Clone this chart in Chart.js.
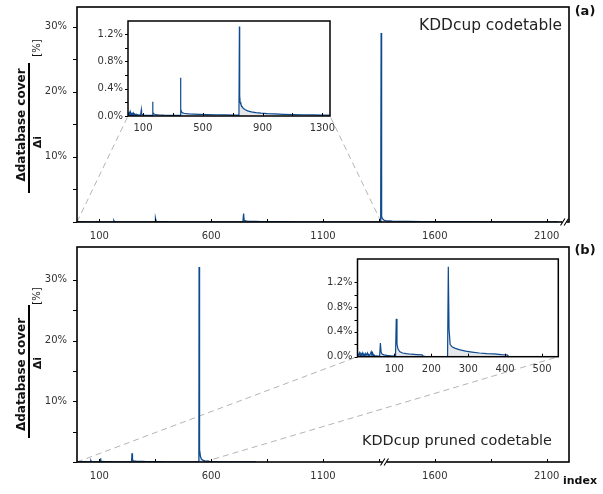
<!DOCTYPE html>
<html><head><meta charset="utf-8">
<script src="https://cdn.jsdelivr.net/npm/chart.js@4.4.0/dist/chart.umd.min.js"></script>
<style>
html,body{margin:0;padding:0;background:#fff;}
#wrap{position:relative;width:603px;height:494px;overflow:hidden;}
canvas{position:absolute;}
</style></head><body>
<div id="wrap">
<canvas id="mainA" width="603" height="250" style="left:0;top:0;width:603px;height:250px"></canvas>
<canvas id="mainB" width="603" height="254" style="left:0;top:240px;width:603px;height:254px"></canvas>
<canvas id="insetA" width="250" height="128" style="left:90px;top:12px;width:250px;height:128px"></canvas>
<canvas id="insetB" width="252" height="128" style="left:316px;top:250px;width:252px;height:128px"></canvas>
</div>
<script>
// ---- data: full codetable (a) ----
const idxA = [1,3,5,8,11,14,17,20,24,28,32,36,40,45,50,55,60,66,72,78,84,89,91,95,100,110,125,140,155,163,165,167,170,178,190,210,240,280,320,345,349,351,354,358,365,375,390,410,440,480,530,590,650,710,742,745,747,750,755,762,772,785,800,825,855,890,930,980,1040,1100,1170,1240,1300,1340,1358,1360,1361,1363,1366,1372,1380,1392,1410,1440,1480,1540,1620,1720,1850,2000,2150];
const valA = [0.03,0.05,0.02,0.045,0.01,0.04,0.02,0.05,0.015,0.035,0.01,0.04,0.015,0.03,0.01,0.025,0.01,0.02,0.008,0.015,0.01,0.09,0.03,0.02,0.015,0.012,0.01,0.01,0.008,0.01,0.21,0.06,0.035,0.025,0.02,0.015,0.012,0.01,0.008,0.008,0.01,0.56,0.1,0.06,0.045,0.04,0.035,0.03,0.027,0.023,0.02,0.018,0.015,0.012,0.012,1.31,0.3,0.2,0.17,0.14,0.11,0.09,0.075,0.06,0.05,0.042,0.035,0.03,0.025,0.021,0.018,0.016,0.014,0.012,0.01,29.0,4.0,0.8,0.5,0.3,0.2,0.15,0.12,0.1,0.08,0.06,0.05,0.04,0.03,0.02,0.015];
// ---- data: pruned codetable (b) ----
const idxB = [1,3,5,7,9,11,13,15,17,19,21,23,25,27,29,31,33,35,37,39,41,43,45,48,52,56,60,62,64,67,72,80,90,100,103,105,107,110,115,122,132,145,160,175,178,182,200,220,240,244,246,248,251,256,265,278,293,310,330,350,370,390,405,410,450,500,545,546,547,549,552,556,562,572,590,620,660,720,800];
const valB = [0.05,0.02,0.06,0.015,0.05,0.03,0.06,0.01,0.04,0.02,0.05,0.015,0.035,0.06,0.01,0.03,0.015,0.05,0.08,0.02,0.06,0.015,0.03,0.01,0.015,0.01,0.01,0.22,0.07,0.04,0.03,0.02,0.015,0.01,0.01,0.61,0.2,0.12,0.08,0.06,0.05,0.04,0.035,0.03,0.01,0.005,0.003,0.003,0.003,0.003,1.45,0.45,0.2,0.16,0.135,0.11,0.09,0.075,0.06,0.05,0.045,0.035,0.03,0.003,0.002,0.002,0.002,32.1,6,2,0.9,0.5,0.3,0.18,0.1,0.05,0.025,0.012,0.005];
// ---- ticks ----
const mainXTicks = [100,600,1100,1600,2100];
const mainXMinor = [350,850,1350,1850];
const mainYTicks = [0,10,20,30];
const mainYMinor = [5,15,25];
const insetAXTicks = [100,500,900,1300];
const insetAXMinor = [300,700,1100];
const insetBXTicks = [100,200,300,400,500];
const insetYTicks = [0,0.4,0.8,1.2];
const insetYMinor = [0.2,0.6,1.0];

const LINE = '#0d4a8f';
const FILL = 'rgba(185,188,198,0.35)';
const FONT = 'DejaVu Sans';
Chart.defaults.font.family = FONT;
Chart.defaults.font.size = 10;
const charts = {};
const toPoints = (xs, ys) => xs.map((x, i) => ({x: x, y: ys[i]}));

function makeDecor(cfg) {
  return {
    id: 'decor',
    beforeDraw(chart) {
      if (!cfg.white) return;
      const ctx = chart.ctx, a = chart.chartArea;
      ctx.save(); ctx.fillStyle = '#fff';
      ctx.fillRect(a.left - cfg.white[0], a.top, a.right - a.left + cfg.white[0], a.bottom - a.top + cfg.white[1]);
      ctx.restore();
    },
    beforeDatasetsDraw(chart) {
      if (!cfg.connect) return;
      const ctx = chart.ctx, xs = chart.scales.x, ys = chart.scales.y;
      const ins = charts[cfg.connect.inset]; if (!ins) return;
      const ia = ins.chartArea, off = cfg.connect.offset;
      const y0 = ys.getPixelForValue(0);
      ctx.save(); ctx.setLineDash([6, 4]); ctx.strokeStyle = '#b4b4b4'; ctx.lineWidth = 1;
      ctx.beginPath();
      ctx.moveTo(xs.getPixelForValue(cfg.connect.from[0]), y0); ctx.lineTo(off[0] + ia.left, off[1] + ia.bottom);
      ctx.moveTo(xs.getPixelForValue(cfg.connect.from[1]), y0); ctx.lineTo(off[0] + ia.right, off[1] + ia.bottom);
      ctx.stroke(); ctx.restore();
    },
    afterDraw(chart) {
      const ctx = chart.ctx, a = chart.chartArea, xs = chart.scales.x, ys = chart.scales.y;
      ctx.save();
      ctx.strokeStyle = '#000'; ctx.lineWidth = cfg.frameW;
      ctx.strokeRect(a.left, a.top, a.right - a.left, a.bottom - a.top);
      ctx.lineWidth = 1;
      ctx.beginPath();
      cfg.yT.forEach(v => { const p = Math.round(ys.getPixelForValue(v)) + 0.5; ctx.moveTo(a.left, p); ctx.lineTo(a.left - cfg.yLen, p); });
      cfg.xT.forEach(v => { const p = Math.round(xs.getPixelForValue(v)) + 0.5; ctx.moveTo(p, a.bottom); ctx.lineTo(p, a.bottom - cfg.xLen); });
      ctx.stroke();
      if (cfg.breakAt) {
        const px = xs.getPixelForValue(cfg.breakAt), py = a.bottom;
        ctx.fillStyle = '#fff'; ctx.fillRect(px - 2, py - 1.5, 4, 3);
        ctx.lineWidth = 1.1; ctx.beginPath();
        [-1.8, 1.8].forEach(d => { ctx.moveTo(px + d - 2.2, py + 3.5); ctx.lineTo(px + d + 2.2, py - 3.5); });
        ctx.stroke();
      }
      if (cfg.fracLine) {
        ctx.lineWidth = 2; ctx.beginPath();
        ctx.moveTo(cfg.fracLine[0], cfg.fracLine[1]); ctx.lineTo(cfg.fracLine[0], cfg.fracLine[2]); ctx.stroke();
      }
      (cfg.texts || []).forEach(t => {
        ctx.save();
        let font = t.font;
        if (t.w) {
          ctx.font = t.size + 'px ' + FONT;
          const s = t.size * t.w / ctx.measureText(t.text).width;
          font = s.toFixed(2) + 'px ' + FONT;
        }
        ctx.font = font; ctx.fillStyle = t.color || '#000';
        ctx.textAlign = t.align || 'center'; ctx.textBaseline = t.base || 'middle';
        ctx.translate(t.x, t.y);
        if (t.rot) ctx.rotate(-Math.PI / 2);
        ctx.fillText(t.text, 0, 0);
        ctx.restore();
      });
      ctx.restore();
    }
  };
}

function build(id, o) {
  const c = new Chart(document.getElementById(id), {
    type: 'line',
    data: {datasets: [{data: o.data, borderColor: LINE, backgroundColor: FILL, fill: 'origin',
      borderWidth: o.lineW, pointRadius: 0, tension: 0}]},
    options: {
      responsive: false, animation: false, devicePixelRatio: 1,
      layout: {padding: o.pad},
      plugins: {legend: {display: false}, tooltip: {enabled: false}},
      scales: {
        x: {type: 'linear', min: o.xMin, max: o.xMax,
          grid: {display: false, drawTicks: false}, border: {display: false},
          afterBuildTicks: s => { s.ticks = o.xTicks.map(v => ({value: v})); },
          afterFit: s => { s.height = o.xH; s.paddingLeft = 0; s.paddingRight = 0; },
          ticks: {padding: o.padX, color: '#333', font: {size: 10}, maxRotation: 0, autoSkip: false, callback: v => String(v)}},
        y: {type: 'linear', min: o.yMin, max: o.yMax,
          grid: {display: false, drawTicks: false}, border: {display: false},
          afterBuildTicks: s => { s.ticks = o.yTicks.map(v => ({value: v})); },
          afterFit: s => { s.width = o.yW; s.paddingTop = 0; s.paddingBottom = 0; },
          ticks: {padding: o.padY, color: '#333', font: {size: 10}, autoSkip: false, callback: o.yFmt}}
      }
    },
    plugins: [makeDecor(o.decor)]
  });
  charts[id] = c;
  return c;
}

const dataA = toPoints(idxA, valA);
const dataB = toPoints(idxB, valB);
const pctMain = v => v === 0 ? '' : v + '%';
const pctInset = v => v.toFixed(1) + '%';

build('insetA', {data: dataA, lineW: 1.2, pad: {left: 0, top: 9, right: 10, bottom: 0}, xMin: 0, xMax: 1351, yMin: 0, yMax: 1.39,
  xTicks: insetAXTicks, yTicks: insetYTicks, yFmt: pctInset, xH: 24, yW: 38, padX: 6, padY: 5,
  decor: {white: [0, 11], frameW: 1.5, yT: insetYTicks.concat(insetYMinor), yLen: 3, xT: insetAXTicks.concat(insetAXMinor), xLen: 3}});
build('insetB', {data: dataB, lineW: 1.2, pad: {left: 0, top: 9, right: 9.7, bottom: 0}, xMin: 0, xMax: 544, yMin: 0, yMax: 1.576,
  xTicks: insetBXTicks, yTicks: insetYTicks, yFmt: pctInset, xH: 21.3, yW: 41.5, padX: 7, padY: 5,
  decor: {white: [0, 0], frameW: 1.5, yT: insetYTicks.concat(insetYMinor), yLen: 3, xT: insetBXTicks, xLen: 3}});

build('mainA', {data: dataA, lineW: 1.3, pad: {left: 0, top: 7, right: 34, bottom: 0}, xMin: 0, xMax: 2200, yMin: 0, yMax: 33,
  xTicks: mainXTicks, yTicks: mainYTicks, yFmt: pctMain, xH: 28, yW: 77, padX: 8, padY: 10,
  decor: {frameW: 1.6, yT: mainYTicks.concat(mainYMinor), yLen: 4, xT: mainXTicks.concat(mainXMinor), xLen: 3,
    breakAt: 2180, connect: {inset: 'insetA', from: [0, 1360], offset: [90, 12]},
    fracLine: [29, 63, 193],
    texts: [
      {text: 'Δdatabase cover', x: 22, y: 125, rot: true, font: 'bold 12px ' + FONT, color: '#111'},
      {text: 'Δi', x: 38, y: 142, rot: true, font: 'bold 11px ' + FONT, color: '#111'},
      {text: '[%]', x: 37, y: 48, rot: true, font: '10px ' + FONT, color: '#111'},
      {text: 'KDDcup codetable', x: 562, y: 30, align: 'right', base: 'alphabetic', size: 15, w: 143, color: '#222'},
      {text: '(a)', x: 585, y: 12, font: 'bold 13px ' + FONT, color: '#111'}
    ]}});
build('mainB', {data: dataB, lineW: 1.3, pad: {left: 0, top: 7, right: 34, bottom: 0}, xMin: 0, xMax: 2200, yMin: 0, yMax: 35.4,
  xTicks: mainXTicks, yTicks: mainYTicks, yFmt: pctMain, xH: 32, yW: 77, padX: 8, padY: 10,
  decor: {frameW: 1.6, yT: mainYTicks.concat(mainYMinor), yLen: 4, xT: mainXTicks.concat(mainXMinor), xLen: 3,
    breakAt: 1375, connect: {inset: 'insetB', from: [0, 567], offset: [316, 10]},
    fracLine: [29, 65, 198],
    texts: [
      {text: 'Δdatabase cover', x: 22, y: 134.5, rot: true, font: 'bold 12px ' + FONT, color: '#111'},
      {text: 'Δi', x: 38, y: 123, rot: true, font: 'bold 11px ' + FONT, color: '#111'},
      {text: '[%]', x: 37, y: 56, rot: true, font: '10px ' + FONT, color: '#111'},
      {text: 'KDDcup pruned codetable', x: 552, y: 205, align: 'right', base: 'alphabetic', size: 15, w: 190, color: '#222'},
      {text: '(b)', x: 585, y: 11, font: 'bold 13px ' + FONT, color: '#111'},
      {text: 'index', x: 580, y: 241, font: 'bold 11px ' + FONT, color: '#111'}
    ]}});
</script>
</body></html>
